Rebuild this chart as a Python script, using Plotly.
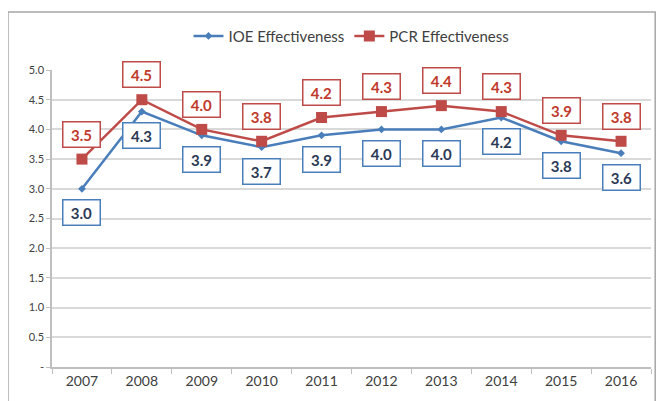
import plotly.graph_objects as go

years = ["2007", "2008", "2009", "2010", "2011", "2012", "2013", "2014", "2015", "2016"]
ioe_values = [3.0, 4.3, 3.9, 3.7, 3.9, 4.0, 4.0, 4.2, 3.8, 3.6]
pcr_values = [3.5, 4.5, 4.0, 3.8, 4.2, 4.3, 4.4, 4.3, 3.9, 3.8]
y_ticks = [0, 0.5, 1.0, 1.5, 2.0, 2.5, 3.0, 3.5, 4.0, 4.5, 5.0]
y_tick_labels = ["-", "0.5", "1.0", "1.5", "2.0", "2.5", "3.0", "3.5", "4.0", "4.5", "5.0"]

blue = "#4A7EBB"
red = "#BE4B48"

fig = go.Figure()
fig.add_trace(go.Scatter(x=years, y=ioe_values, name="IOE Effectiveness", mode="lines+markers",
                         line=dict(color=blue, width=2.5),
                         marker=dict(symbol="diamond", size=6, color=blue)))
fig.add_trace(go.Scatter(x=years, y=pcr_values, name="PCR Effectiveness", mode="lines+markers",
                         line=dict(color=red, width=2.5),
                         marker=dict(symbol="square", size=11, color=red)))

# boxed data labels (x given as category index)
for i, v in enumerate(ioe_values):
    fig.add_annotation(x=i, y=v, xref="x", yref="y", text="<b>%.1f</b>" % v, showarrow=False, yshift=-24,
                       font=dict(size=15, color="#2B3A55", family="Lato"),
                       bordercolor=blue, borderwidth=1.5, borderpad=3, bgcolor="white", width=30)
for i, v in enumerate(pcr_values):
    fig.add_annotation(x=i, y=v, xref="x", yref="y", text="<b>%.1f</b>" % v, showarrow=False, yshift=25,
                       font=dict(size=15, color="#C0392B", family="Lato"),
                       bordercolor=red, borderwidth=1.5, borderpad=3, bgcolor="white", width=30)

# outer chart border
fig.add_shape(type="rect", xref="paper", yref="paper", x0=-0.0735, x1=1.007, y0=-0.2, y1=1.195,
              line=dict(color="#A6A6A6", width=1.5), layer="below")

fig.update_layout(
    width=660, height=393,
    margin=dict(l=44, r=17, t=62, b=34),
    paper_bgcolor="white", plot_bgcolor="white",
    font=dict(family="Lato", size=12, color="#404040"),
    showlegend=True,
    legend=dict(orientation="h", x=0.5, xanchor="center", y=1.114, yanchor="middle",
                bgcolor="rgba(0,0,0,0)", font=dict(size=15, color="#404040")),
)
fig.update_xaxes(type="category", range=[-0.5, 9.5], showgrid=False,
                 showline=True, linecolor="#BFBFBF", linewidth=1.5,
                 ticks="outside", tickson="boundaries", ticklen=5, tickcolor="#BFBFBF",
                 tickfont=dict(size=14, color="#404040"))
fig.update_yaxes(range=[0, 5], tickvals=y_ticks, ticktext=y_tick_labels,
                 showgrid=True, gridcolor="#D9D9D9", gridwidth=2,
                 showline=True, linecolor="#BFBFBF", linewidth=1.5,
                 ticks="outside", ticklen=4, tickcolor="#BFBFBF",
                 tickfont=dict(size=11, color="#404040"), zeroline=False)

fig.write_html("out.html")
